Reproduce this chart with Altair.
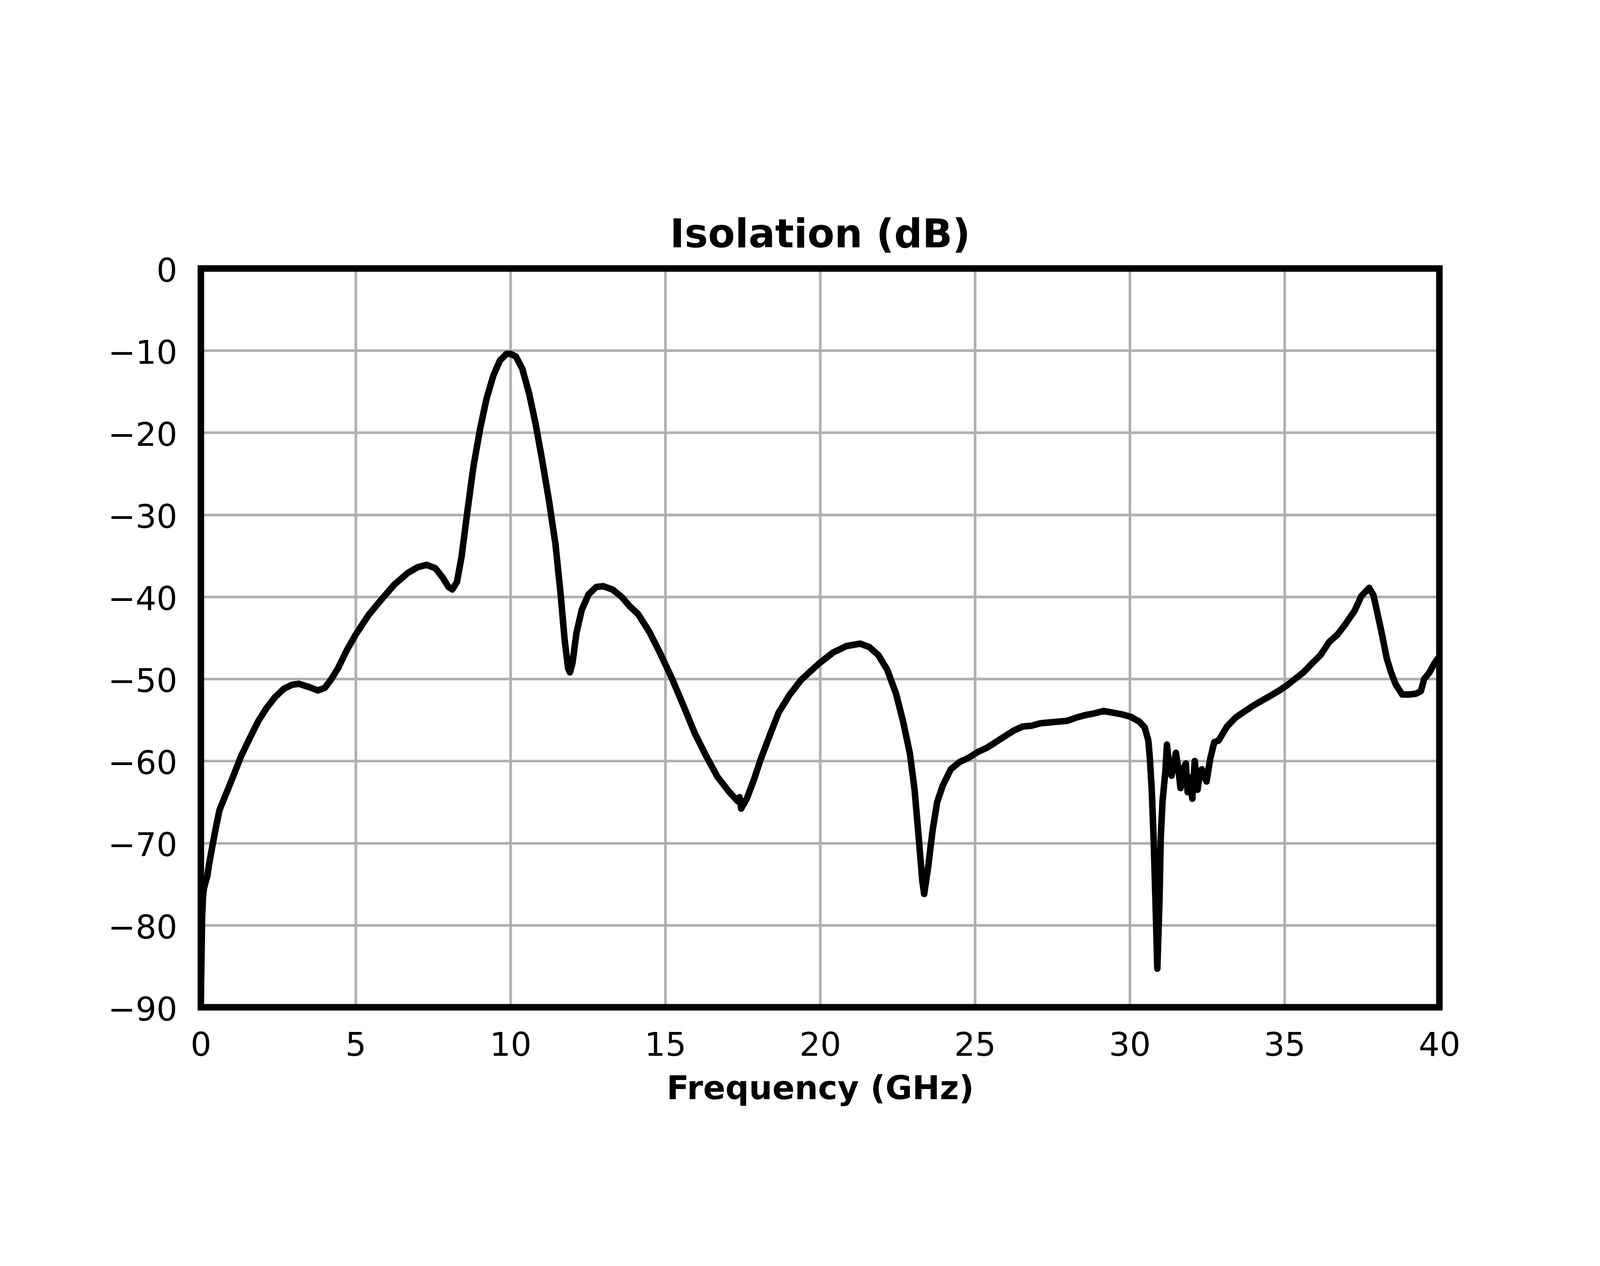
import altair as alt
import pandas as pd

# Frequency (GHz) and isolation (dB)
freq = [0.00, 0.02, 0.04, 0.07, 0.10, 0.15, 0.21, 0.26, 0.37, 0.48, 0.60, 0.76,
        1.03, 1.30, 1.58, 1.86, 2.13, 2.40, 2.68, 2.95, 3.17, 3.50, 3.78, 4.00,
        4.20, 4.43, 4.70, 5.00, 5.42, 5.86, 6.25, 6.68, 7.00, 7.29, 7.57, 7.82,
        8.00, 8.12, 8.27, 8.42, 8.59, 8.80, 9.02, 9.23, 9.45, 9.66, 9.87, 10.00,
        10.17, 10.38, 10.60, 10.81, 11.02, 11.24, 11.45, 11.62, 11.75, 11.86,
        11.92, 12.00, 12.13, 12.30, 12.52, 12.77, 12.99, 13.29, 13.59, 13.84,
        14.12, 14.49, 14.85, 15.22, 15.59, 15.95, 16.32, 16.68, 17.05, 17.34,
        17.40, 17.45, 17.63, 17.85, 18.07, 18.37, 18.66, 19.02, 19.39, 19.97, 20.41,
        20.85, 21.29, 21.58, 21.88, 22.17, 22.46, 22.68, 22.90, 23.05, 23.19,
        23.30, 23.36, 23.49, 23.63, 23.78, 23.96, 24.22, 24.51, 24.80, 25.09,
        25.38, 25.67, 25.96, 26.25, 26.54, 26.83, 27.12, 27.41, 27.70, 27.99,
        28.28, 28.57, 28.86, 29.15, 29.44, 29.73, 30.02, 30.31, 30.48, 30.60,
        30.65, 30.71, 30.77, 30.83, 30.89, 30.96, 31.00, 31.06, 31.15, 31.20,
        31.27, 31.35, 31.49, 31.57, 31.64, 31.72, 31.81, 31.87, 31.95, 32.02,
        32.10, 32.19, 32.26, 32.33, 32.41, 32.48, 32.60,
        32.73, 32.87, 33.14, 33.42, 33.69, 33.97, 34.24, 34.52, 34.79, 35.07,
        35.34, 35.61, 35.89, 36.16, 36.44, 36.71, 36.99, 37.26, 37.48, 37.73,
        37.87, 37.97, 38.08, 38.19, 38.30, 38.44, 38.58, 38.80, 39.02, 39.24,
        39.40, 39.51, 39.68, 39.84, 39.95, 40.00]

isolation = [-88.5, -84.0, -79.0, -76.5, -75.5, -74.8, -74.0, -72.7, -70.4, -68.2, -66.0, -64.5,
             -62.0, -59.4, -57.2, -55.1, -53.5, -52.2, -51.2, -50.7, -50.6, -51.0, -51.4, -51.1,
             -50.1, -48.7, -46.6, -44.6, -42.2, -40.2, -38.5, -37.1, -36.4, -36.1, -36.5, -37.7,
             -38.8, -39.1, -38.2, -35.1, -30.1, -24.2, -19.5, -15.8, -13.0, -11.2, -10.4, -10.4,
             -10.7, -12.2, -15.2, -18.9, -23.3, -28.2, -33.5, -39.7, -45.3, -48.7,
             -49.2, -48.1, -44.4, -41.6, -39.7, -38.8, -38.7, -39.1, -40.0, -41.1,
             -42.1, -44.3, -47.0, -50.0, -53.3, -56.6, -59.4, -61.9, -63.7, -64.9,
             -64.4, -65.8, -64.6, -62.4, -59.9, -56.9, -54.1, -51.9, -50.1, -48.1, -46.8,
             -46.0, -45.7, -46.1, -47.1, -48.9, -51.9, -55.2, -59.1, -63.5, -69.6,
             -74.6, -76.2, -72.9, -68.5, -65.0, -63.0, -61.0, -60.1, -59.6, -58.9,
             -58.4, -57.7, -57.0, -56.3, -55.8, -55.7, -55.4, -55.3, -55.2, -55.1,
             -54.7, -54.4, -54.2, -53.9, -54.1, -54.3, -54.6, -55.2, -55.9, -57.5,
             -59.7, -63.5, -69.4, -77.0, -85.3, -77.0, -69.4, -64.8, -61.3, -58.0,
             -60.5, -61.8, -59.0, -61.0, -63.3, -61.0, -60.3, -63.8, -62.0, -64.6,
             -60.0, -63.5, -61.5, -61.0, -62.0, -62.5, -59.7,
             -57.7, -57.5, -55.8, -54.7, -54.0, -53.3, -52.7, -52.1, -51.5, -50.8,
             -50.0, -49.2, -48.1, -47.1, -45.5, -44.6, -43.2, -41.7, -39.9, -38.9,
             -39.8, -41.5, -43.4, -45.4, -47.5, -49.2, -50.6, -51.9, -51.9, -51.8,
             -51.5, -50.0, -49.2, -48.1, -47.5, -47.8]

x_ticks = [0, 5, 10, 15, 20, 25, 30, 35, 40]
y_ticks = [-90, -80, -70, -60, -50, -40, -30, -20, -10, 0]
x_range = [0, 40]
y_range = [-90, 0]

df = pd.DataFrame({"freq": freq, "iso": isolation})

FONT = "DejaVu Sans"
GRID = "#b0b0b0"

x_scale = alt.Scale(domain=x_range, nice=False, zero=False)
y_scale = alt.Scale(domain=y_range, nice=False, zero=False)

line = alt.Chart(df).mark_line(
    color="black", strokeWidth=22, strokeJoin="round", strokeCap="square", clip=True
).encode(
    x=alt.X("freq:Q", scale=x_scale,
            axis=alt.Axis(values=x_ticks, title="Frequency (GHz)", format="d",
                          grid=True, gridColor=GRID, gridWidth=8.9,
                          ticks=False, domain=False,
                          labelFont=FONT, labelFontSize=111, labelColor="black",
                          labelPadding=75, labelBaseline="top", labelFlush=False,
                          labelLimit=2000,
                          titleFont=FONT, titleFontSize=111, titleFontWeight="bold",
                          titleColor="black", titleBaseline="alphabetic",
                          titleY=310, titleX=2092, titleAnchor="middle", titleAlign="center",
                          titleLimit=4000)),
    y=alt.Y("iso:Q", scale=y_scale,
            axis=alt.Axis(values=y_ticks, title=None, format="d",
                          grid=True, gridColor=GRID, gridWidth=8.9,
                          ticks=False, domain=False,
                          labelFont=FONT, labelFontSize=111, labelColor="black",
                          labelPadding=80, labelBaseline="alphabetic", labelOffset=44,
                          labelFlush=False, labelAlign="right", labelLimit=2000)),
)

# black frame drawn on top of grid and curve (like the axes spines)
frame = alt.Chart(pd.DataFrame({"k": [0]})).mark_rect(
    fillOpacity=0, stroke="black", strokeWidth=22
).encode(
    x=alt.datum(x_range[0], scale=x_scale),
    x2=alt.datum(x_range[1]),
    y=alt.datum(y_range[0], scale=y_scale),
    y2=alt.datum(y_range[1]),
)

chart = alt.layer(line, frame).properties(
    width=4184,
    height=2495,
    autosize="none",
    padding={"left": 668, "top": 381, "right": 532, "bottom": 348},
    title=alt.TitleParams("Isolation (dB)", font=FONT, fontSize=133, fontWeight="bold",
                          color="black", anchor="middle", frame="group",
                          baseline="alphabetic", offset=23, dy=129, limit=4000),
).configure_view(
    stroke=None
)

chart.save("out.html", embed_options={"renderer": "svg", "actions": False})
